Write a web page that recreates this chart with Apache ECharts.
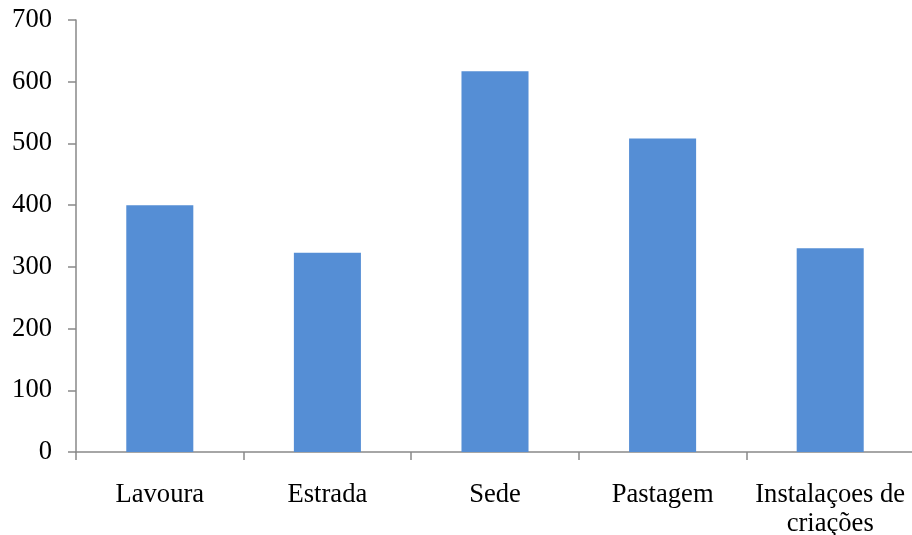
<!DOCTYPE html>
<html>
<head>
<meta charset="utf-8">
<script src="https://cdn.jsdelivr.net/npm/echarts@6/dist/echarts.min.js"></script>
<style>
  html, body { margin: 0; padding: 0; background: #ffffff; }
  #chart { width: 912px; height: 535px; }
</style>
</head>
<body>
<div id="chart"></div>
<script>
// Land-use categories and their totals
var categories = ['Lavoura', 'Estrada', 'Sede', 'Pastagem', 'Instalaçoes de\ncriações'];
var values = [400, 323, 617, 508, 330];
var yTicks = [0, 100, 200, 300, 400, 500, 600, 700];

var axisGray = '#898989';
var font = 'Liberation Serif, Times New Roman, serif';

var chart = echarts.init(document.getElementById('chart'), null, { renderer: 'canvas' });
chart.setOption({
  animation: false,
  grid: { left: 76, right: -2, top: 20, bottom: 83, containLabel: false, outerBoundsMode: 'none' },
  xAxis: {
    type: 'category',
    data: categories,
    axisLine: { lineStyle: { color: axisGray, width: 1.5 } },
    axisTick: { show: true, length: 8, lineStyle: { color: axisGray, width: 1.5 } },
    axisLabel: {
      color: '#000', fontFamily: font, fontSize: 26.6, margin: 29, lineHeight: 29,
      interval: 0
    }
  },
  yAxis: {
    type: 'value',
    min: yTicks[0],
    max: yTicks[yTicks.length - 1],
    interval: 100,
    splitLine: { show: false },
    axisLine: { show: true, lineStyle: { color: axisGray, width: 1.5 } },
    axisTick: { show: true, length: 8, lineStyle: { color: axisGray, width: 1.5 } },
    axisLabel: { color: '#000', fontFamily: font, fontSize: 26.6, margin: 24 }
  },
  series: [{
    type: 'bar',
    data: values,
    barWidth: '40%',
    itemStyle: { color: '#558ED5' }
  }]
});
</script>
</body>
</html>
